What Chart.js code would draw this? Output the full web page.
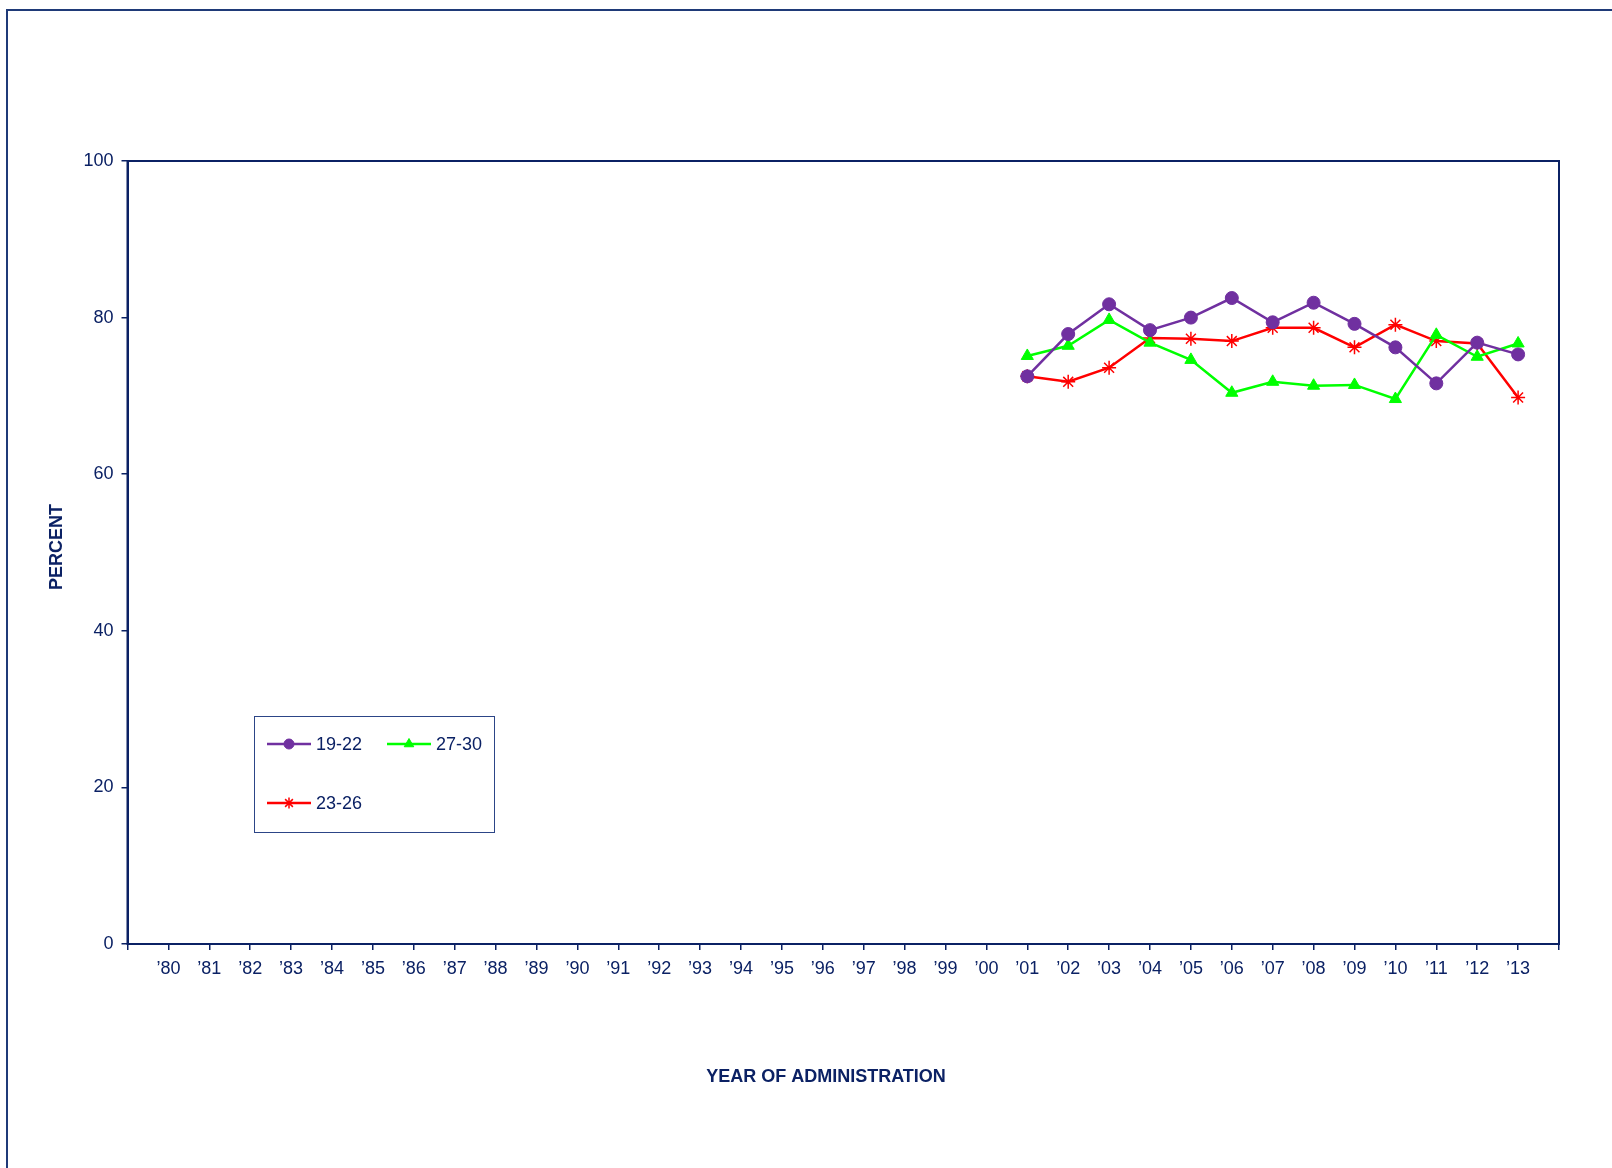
<!DOCTYPE html>
<html>
<head>
<meta charset="utf-8">
<script src="https://cdn.jsdelivr.net/npm/chart.js@4/dist/chart.umd.min.js"></script>
<style>
  html, body { margin: 0; padding: 0; background: #fff; }
  #wrap { width: 1612px; height: 1168px; position: relative; }
</style>
</head>
<body>
<div id="wrap"><canvas id="c" width="1612" height="1168"></canvas></div>
<script>
const years = ["80","81","82","83","84","85","86","87","88","89","90","91","92","93","94","95","96","97","98","99","00","01","02","03","04","05","06","07","08","09","10","11","12","13"];
// values exist only for '01 .. '13
const dataYears = ["01","02","03","04","05","06","07","08","09","10","11","12","13"];
const age1922 = [72.5, 77.9, 81.7, 78.4, 80.0, 82.5, 79.4, 81.9, 79.2, 76.2, 71.6, 76.8, 75.3];
const age2730 = [75.1, 76.4, 79.7, 76.8, 74.6, 70.4, 71.8, 71.3, 71.4, 69.6, 77.8, 75.0, 76.7];
const age2326 = [72.5, 71.8, 73.6, 77.4, 77.3, 77.0, 78.7, 78.7, 76.2, 79.1, 77.0, 76.7, 69.8];
const yTicks = [0, 20, 40, 60, 80, 100];

const navy = "#0b2164";
const fontFam = "'Liberation Sans', Arial, sans-serif";
const labels = [""].concat(years.map(y => "\u2019" + y), [""]);

function toSeries(vals) {
  return labels.map((l, i) => {
    const k = i === 0 || i === labels.length - 1 ? -1 : dataYears.indexOf(years[i - 1]);
    return k >= 0 ? vals[k] : null;
  });
}

const series = [
  { label: "19-22", vals: age1922, color: "#7030a0", style: "circle", r: 6.5, bw: 1 },
  { label: "27-30", vals: age2730, color: "#00ff00", style: "triangle", r: 7, bw: 1 },
  { label: "23-26", vals: age2326, color: "#ff0000", style: "star", r: 7, bw: 1.5 },
];

const frame = {
  id: "frame",
  beforeDraw(chart) {
    const { ctx } = chart;
    ctx.save();
    ctx.fillStyle = "#fff";
    ctx.fillRect(0, 0, chart.width, chart.height);
    ctx.strokeStyle = "#1f3a78";
    ctx.lineWidth = 2;
    ctx.beginPath();
    ctx.moveTo(7, chart.height);
    ctx.lineTo(7, 10);
    ctx.lineTo(chart.width, 10);
    ctx.stroke();
    ctx.restore();
  },
  afterDatasetsDraw(chart) {
    const { ctx, chartArea: a } = chart;
    ctx.save();
    ctx.strokeStyle = navy;
    ctx.lineWidth = 2;
    ctx.strokeRect(a.left, a.top, a.right - a.left, a.bottom - a.top);
    ctx.restore();
  },
  afterDraw(chart) {
    const { ctx } = chart;
    ctx.save();
    // axis titles
    ctx.fillStyle = navy;
    ctx.font = "bold 18px " + fontFam;
    ctx.textAlign = "center";
    ctx.textBaseline = "middle";
    ctx.fillText("YEAR OF ADMINISTRATION", 826, 1077);
    ctx.save();
    ctx.translate(57, 547);
    ctx.rotate(-Math.PI / 2);
    ctx.fillText("PERCENT", 0, 0);
    ctx.restore();

    // legend box inside plot
    ctx.fillStyle = "#fff";
    ctx.fillRect(254, 716, 240, 116);
    ctx.strokeStyle = "#2c4587";
    ctx.lineWidth = 1;
    ctx.strokeRect(254.5, 716.5, 240, 116);
    const spots = [[267, 744], [387, 744], [267, 803]];
    chart.data.datasets.forEach((ds, i) => {
      const [x, y] = spots[i];
      ctx.strokeStyle = ds.borderColor;
      ctx.fillStyle = ds.borderColor;
      ctx.lineWidth = 2.5;
      ctx.beginPath();
      ctx.moveTo(x, y);
      ctx.lineTo(x + 44, y);
      ctx.stroke();
      ctx.lineWidth = ds.pointBorderWidth;
      Chart.helpers.drawPoint(ctx, {
        pointStyle: ds.pointStyle, radius: ds.pointRadius - 1.5, borderWidth: ds.pointBorderWidth
      }, x + 22, y);
      ctx.fillStyle = navy;
      ctx.font = "18px " + fontFam;
      ctx.textBaseline = "middle";
      ctx.textAlign = "left";
      ctx.fillText(ds.label, x + 49, y + 1);
    });
    ctx.restore();
  }
};

new Chart(document.getElementById("c"), {
  type: "line",
  data: {
    labels: labels,
    datasets: series.map(s => ({
      label: s.label,
      data: toSeries(s.vals),
      borderColor: s.color,
      backgroundColor: s.color,
      pointBackgroundColor: s.color,
      pointBorderColor: s.color,
      pointStyle: s.style,
      pointRadius: s.r,
      pointBorderWidth: s.bw,
      borderWidth: 2.5,
      tension: 0,
      spanGaps: false,
    })),
  },
  options: {
    responsive: false,
    animation: false,
    layout: { padding: { left: 7.5, top: 161, right: 53, bottom: 64 } },
    plugins: { legend: { display: false }, tooltip: { enabled: false } },
    scales: {
      x: {
        offset: false,
        grid: { display: true, drawOnChartArea: false, drawTicks: true, tickLength: 6, color: navy, lineWidth: 1.5 },
        border: { display: true, color: navy, width: 2 },
        ticks: {
          autoSkip: false, maxRotation: 0, minRotation: 0, padding: 8,
          color: navy, font: { family: fontFam, size: 18 },
        },
        title: { display: false },
        afterFit(scale) { scale.height = 160; },
      },
      y: {
        min: 0, max: 100,
        afterBuildTicks(scale) { scale.ticks = yTicks.map(v => ({ value: v })); },
        grid: { display: true, drawOnChartArea: false, drawTicks: true, tickLength: 6, color: navy, lineWidth: 1.5 },
        border: { display: true, color: navy, width: 2 },
        ticks: {
          padding: 8, color: navy,
          font: { family: fontFam, size: 18 },
        },
        title: { display: false },
        afterFit(scale) { scale.width = 120; },
      },
    },
  },
  plugins: [frame],
});
</script>
</body>
</html>
